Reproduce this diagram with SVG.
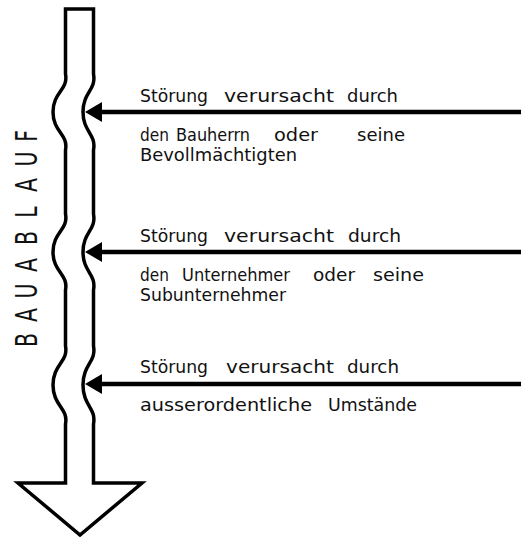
<svg xmlns="http://www.w3.org/2000/svg" width="521" height="537" viewBox="0 0 521 537">
  <defs>
    <style>
      .outline { fill: #fff; stroke: #000; stroke-width: 3.5; stroke-linejoin: miter; }
      .shaft-line { stroke: #000; stroke-width: 4.5; fill: none; }
      .head { fill: #000; stroke: none; }
      .lbl { font-family: "DejaVu Sans", "Liberation Sans", sans-serif; font-size: 18px; fill: #111; }
      .vert { font-family: "DejaVu Sans", "Liberation Sans", sans-serif; font-size: 30px; fill: #111; text-anchor: middle; }
    </style>
  </defs>

  <rect width="521" height="537" fill="#fff"/>

  <!-- wavy process arrow (Bauablauf) -->
  <g id="bauablauf">
    <path class="outline" d="M65.5,9 L93.5,9
      L93.5,74 C96.5,90 83,92 83,112 C83,132 96.5,134 93.5,150
      L93.5,214 C96.5,230 83,232 83,252 C83,272 96.5,274 93.5,290
      L93.5,346 C96.5,362 83,364 83,385 C83,406 96.5,408 93.5,424
      L93.5,483 L142,483 L80,535 L18,483 L65.5,483
      L65.5,424 C68.5,408 53,406 53,385 C53,364 68.5,362 65.5,346
      L65.5,290 C68.5,274 53,272 53,252 C53,232 68.5,230 65.5,214
      L65.5,150 C68.5,134 53,132 53,112 C53,92 68.5,90 65.5,74 Z"/>
    <g id="bauablauf-label">
      <text class="vert" transform="translate(37,340) rotate(-90) scale(0.68,1)">B</text>
      <text class="vert" transform="translate(37,315) rotate(-90) scale(0.68,1)">A</text>
      <text class="vert" transform="translate(37,291) rotate(-90) scale(0.68,1)">U</text>
      <text class="vert" transform="translate(37,265) rotate(-90) scale(0.68,1)">A</text>
      <text class="vert" transform="translate(37,238) rotate(-90) scale(0.68,1)">B</text>
      <text class="vert" transform="translate(37,212) rotate(-90) scale(0.68,1)">L</text>
      <text class="vert" transform="translate(37,185) rotate(-90) scale(0.68,1)">A</text>
      <text class="vert" transform="translate(37,159) rotate(-90) scale(0.68,1)">U</text>
      <text class="vert" transform="translate(37,136) rotate(-90) scale(0.68,1)">F</text>
    </g>
  </g>

  <!-- disturbance arrows -->
  <g id="connectors">
    <line class="shaft-line" x1="521" y1="112" x2="98" y2="112"/>
    <polygon class="head" points="85,112 102,102 102,122"/>
    <line class="shaft-line" x1="521" y1="252" x2="98" y2="252"/>
    <polygon class="head" points="85,252 102,242 102,262"/>
    <line class="shaft-line" x1="521" y1="384" x2="98" y2="384"/>
    <polygon class="head" points="85,384 102,374 102,394"/>
  </g>

  <g id="stoerung-bauherr">
    <text class="lbl" x="140" y="102" textLength="68" lengthAdjust="spacingAndGlyphs">Störung</text>
    <text class="lbl" x="224" y="102" textLength="110" lengthAdjust="spacingAndGlyphs">verursacht</text>
    <text class="lbl" x="347" y="102" textLength="51" lengthAdjust="spacingAndGlyphs">durch</text>
    <text class="lbl" x="140" y="141" textLength="29" lengthAdjust="spacingAndGlyphs">den</text>
    <text class="lbl" x="176" y="141" textLength="74" lengthAdjust="spacingAndGlyphs">Bauherrn</text>
    <text class="lbl" x="274" y="141" textLength="44" lengthAdjust="spacingAndGlyphs">oder</text>
    <text class="lbl" x="357" y="141" textLength="48" lengthAdjust="spacingAndGlyphs">seine</text>
    <text class="lbl" x="140" y="161" textLength="157" lengthAdjust="spacingAndGlyphs">Bevollmächtigten</text>
  </g>

  <g id="stoerung-unternehmer">
    <text class="lbl" x="140" y="242" textLength="68" lengthAdjust="spacingAndGlyphs">Störung</text>
    <text class="lbl" x="224" y="242" textLength="110" lengthAdjust="spacingAndGlyphs">verursacht</text>
    <text class="lbl" x="348" y="242" textLength="53" lengthAdjust="spacingAndGlyphs">durch</text>
    <text class="lbl" x="140" y="281" textLength="29" lengthAdjust="spacingAndGlyphs">den</text>
    <text class="lbl" x="182" y="281" textLength="108" lengthAdjust="spacingAndGlyphs">Unternehmer</text>
    <text class="lbl" x="313" y="281" textLength="42" lengthAdjust="spacingAndGlyphs">oder</text>
    <text class="lbl" x="373" y="281" textLength="51" lengthAdjust="spacingAndGlyphs">seine</text>
    <text class="lbl" x="140" y="301" textLength="146" lengthAdjust="spacingAndGlyphs">Subunternehmer</text>
  </g>

  <g id="stoerung-umstaende">
    <text class="lbl" x="140" y="373" textLength="68" lengthAdjust="spacingAndGlyphs">Störung</text>
    <text class="lbl" x="226" y="373" textLength="108" lengthAdjust="spacingAndGlyphs">verursacht</text>
    <text class="lbl" x="347" y="373" textLength="52" lengthAdjust="spacingAndGlyphs">durch</text>
    <text class="lbl" x="140" y="411" textLength="172" lengthAdjust="spacingAndGlyphs">ausserordentliche</text>
    <text class="lbl" x="328" y="411" textLength="89" lengthAdjust="spacingAndGlyphs">Umstände</text>
  </g>
</svg>
